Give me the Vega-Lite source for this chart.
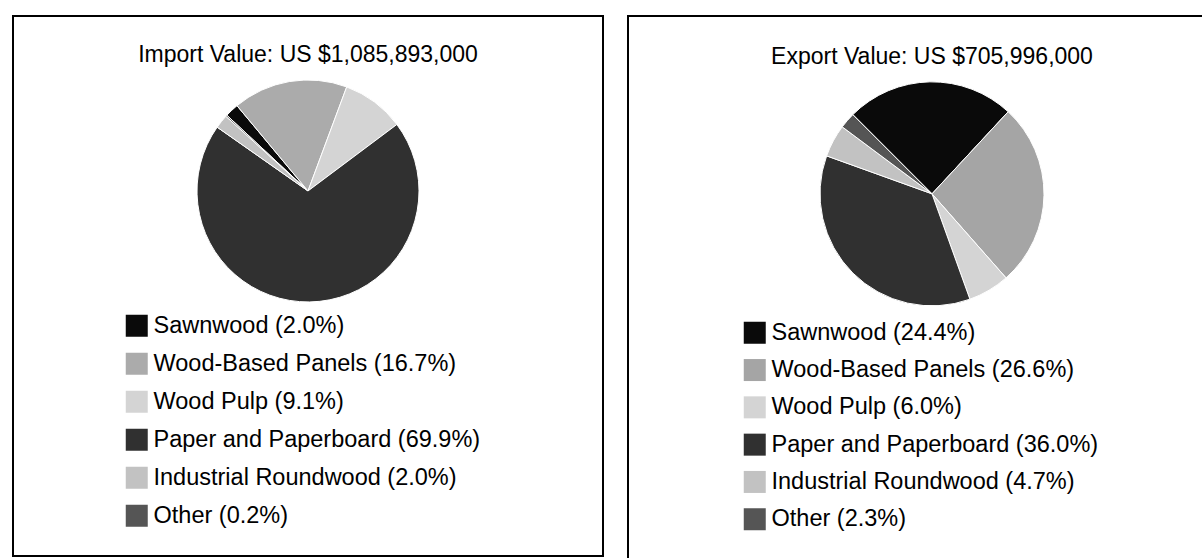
{
  "$schema": "https://vega.github.io/schema/vega-lite/v6.json",
  "padding": {"left": 12, "top": 15, "right": -31, "bottom": -27},
  "background": "white",
  "config": {
    "font": "Liberation Sans",
    "view": {"stroke": "#000", "strokeWidth": 2},
    "concat": {"spacing": 23},
    "title": {"font": "Liberation Sans", "fontSize": 23, "fontWeight": "normal", "color": "#000", "anchor": "middle"},
    "legend": {
      "title": null,
      "symbolType": "square",
      "symbolSize": 484,
      "symbolStrokeWidth": 0,
      "labelFont": "Liberation Sans",
      "labelFontSize": 23.5,
      "labelColor": "#000",
      "labelOffset": 5,
      "labelLimit": 600,
      "rowPadding": 13,
      "padding": 0
    }
  },
  "datasets": {
    "imp": [
      {"order": 1, "category": "Sawnwood", "label": "Sawnwood (2.0%)", "pct": 2.0},
      {"order": 2, "category": "Wood-Based Panels", "label": "Wood-Based Panels (16.7%)", "pct": 16.7},
      {"order": 3, "category": "Wood Pulp", "label": "Wood Pulp (9.1%)", "pct": 9.1},
      {"order": 4, "category": "Paper and Paperboard", "label": "Paper and Paperboard (69.9%)", "pct": 69.9},
      {"order": 5, "category": "Industrial Roundwood", "label": "Industrial Roundwood (2.0%)", "pct": 2.0},
      {"order": 6, "category": "Other", "label": "Other (0.2%)", "pct": 0.2}
    ],
    "exp": [
      {"order": 1, "category": "Sawnwood", "label": "Sawnwood (24.4%)", "pct": 24.4},
      {"order": 2, "category": "Wood-Based Panels", "label": "Wood-Based Panels (26.6%)", "pct": 26.6},
      {"order": 3, "category": "Wood Pulp", "label": "Wood Pulp (6.0%)", "pct": 6.0},
      {"order": 4, "category": "Paper and Paperboard", "label": "Paper and Paperboard (36.0%)", "pct": 36.0},
      {"order": 5, "category": "Industrial Roundwood", "label": "Industrial Roundwood (4.7%)", "pct": 4.7},
      {"order": 6, "category": "Other", "label": "Other (2.3%)", "pct": 2.3}
    ]
  },
  "hconcat": [
    {
      "width": 590,
      "height": 540,
      "title": {"text": "Import Value: US $1,085,893,000", "offset": -69, "baseline": "alphabetic"},
      "data": {"name": "imp"},
      "mark": {"type": "arc", "outerRadius": 111, "stroke": "#fff", "strokeWidth": 1},
      "encoding": {
        "theta": {"field": "pct", "type": "quantitative", "stack": true, "scale": {"range": [-0.82, 5.463]}},
        "order": {"field": "order", "type": "quantitative"},
        "y": {"datum": 0.676, "type": "quantitative", "scale": {"domain": [0, 1]}, "axis": null},
        "color": {
          "field": "label",
          "type": "nominal",
          "scale": {
            "domain": ["Sawnwood (2.0%)", "Wood-Based Panels (16.7%)", "Wood Pulp (9.1%)", "Paper and Paperboard (69.9%)", "Industrial Roundwood (2.0%)", "Other (0.2%)"],
            "range": ["#0a0a0a", "#ababab", "#d4d4d4", "#303030", "#c2c2c2", "#555555"]
          },
          "legend": {"orient": "none", "legendX": 112, "legendY": 298}
        }
      }
    },
    {
      "width": 608,
      "height": 570,
      "title": {"text": "Export Value: US $705,996,000", "offset": -71, "baseline": "alphabetic"},
      "data": {"name": "exp"},
      "mark": {"type": "arc", "outerRadius": 112, "stroke": "#fff", "strokeWidth": 1},
      "encoding": {
        "theta": {"field": "pct", "type": "quantitative", "stack": true, "scale": {"range": [-0.785, 5.498]}},
        "order": {"field": "order", "type": "quantitative"},
        "y": {"datum": 0.688, "type": "quantitative", "scale": {"domain": [0, 1]}, "axis": null},
        "color": {
          "field": "label",
          "type": "nominal",
          "scale": {
            "domain": ["Sawnwood (24.4%)", "Wood-Based Panels (26.6%)", "Wood Pulp (6.0%)", "Paper and Paperboard (36.0%)", "Industrial Roundwood (4.7%)", "Other (2.3%)"],
            "range": ["#0a0a0a", "#a5a5a5", "#d4d4d4", "#303030", "#c2c2c2", "#555555"]
          },
          "legend": {"orient": "none", "legendX": 115, "legendY": 305, "rowPadding": 12.3}
        }
      }
    }
  ],
  "resolve": {
    "scale": {"color": "independent", "theta": "independent", "y": "independent"},
    "legend": {"color": "independent"}
  }
}
